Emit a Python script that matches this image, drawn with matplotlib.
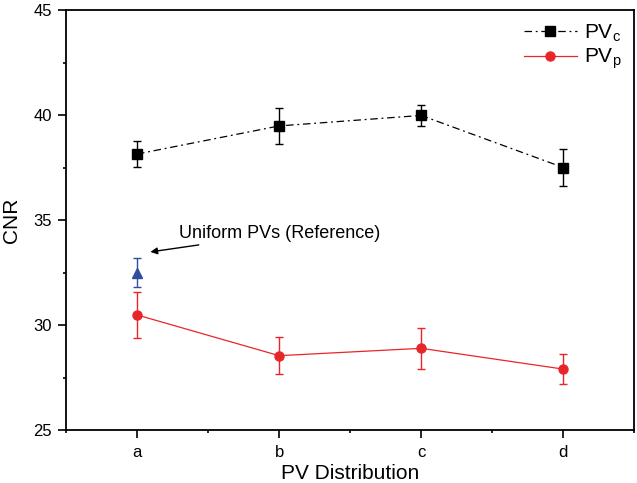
import numpy as np
from matplotlib import pyplot as plt

plt.rcParams['font.family'] = ['Liberation Sans', 'DejaVu Sans']
plt.rcParams['mathtext.fontset'] = 'custom'
plt.rcParams['mathtext.rm'] = 'Liberation Sans'
plt.rcParams['mathtext.it'] = 'Liberation Sans'

# data
labels = ['a', 'b', 'c', 'd']
pvc = [38.14, 39.48, 39.98, 37.50]
pvc_err = [0.62, 0.87, 0.52, 0.87]
pvp = [30.48, 28.54, 28.89, 27.90]
pvp_err = [1.11, 0.89, 0.98, 0.73]
ref_val = [32.50]
ref_err = [0.68]

x = np.arange(1, len(labels) + 1)

fig = plt.figure(figsize=(6.37, 4.83), dpi=100)
ax = fig.add_axes([0.1036, 0.1097, 0.8922, 0.8696])

eb1 = ax.errorbar(x, pvc, yerr=pvc_err, color='black', ls=(0, (6, 3, 1.5, 3)), lw=0.9,
                  marker='s', ms=6.5, capsize=3, elinewidth=1, capthick=1)
eb2 = ax.errorbar(x, pvp, yerr=pvp_err, color='#e8262a', ls='-', lw=0.9,
                  marker='o', ms=6.5, capsize=3, elinewidth=1, capthick=1)
ax.errorbar(x[:1], ref_val, yerr=ref_err, color='#2e4fa0', ls='none',
            marker='^', ms=7, capsize=3, elinewidth=1, capthick=1)

ax.annotate('Uniform PVs (Reference)', xy=(1.094, 33.48), xytext=(1.293, 34.37),
            fontsize=13, va='center', ha='left',
            arrowprops=dict(arrowstyle='-|>', color='black', lw=1, shrinkA=2, shrinkB=0,
                            mutation_scale=10))

ax.set_xlim(0.5, 4.5)
ax.set_ylim(25, 45)
ax.set_xticks(x)
ax.set_xticklabels(labels)
ax.set_xticks(np.arange(0.5, 4.6, 0.5), minor=True)
ax.set_yticks([25, 30, 35, 40, 45])
ax.set_yticks(np.arange(25, 45.1, 2.5), minor=True)
ax.tick_params(which='major', direction='out', length=6, width=1.2, labelsize=12)
ax.tick_params(axis='x', which='major', pad=5)
ax.tick_params(axis='y', which='major', pad=4)
ax.tick_params(which='minor', direction='out', length=2.5, width=1.2)
for s in ax.spines.values():
    s.set_linewidth(1.3)

ax.set_xlabel('PV Distribution', fontsize=15, labelpad=3)
ax.set_ylabel('CNR', fontsize=15, labelpad=9)

ax.legend([eb1.lines[0], eb2.lines[0]], [r'PV$_c$', r'PV$_p$'],
          loc='upper right', frameon=False, fontsize=15, handlelength=2.55,
          handletextpad=0.35, borderaxespad=0.2, labelspacing=0.15,
          bbox_to_anchor=(1.0, 1.0))

fig.savefig('out.png', dpi=100)
